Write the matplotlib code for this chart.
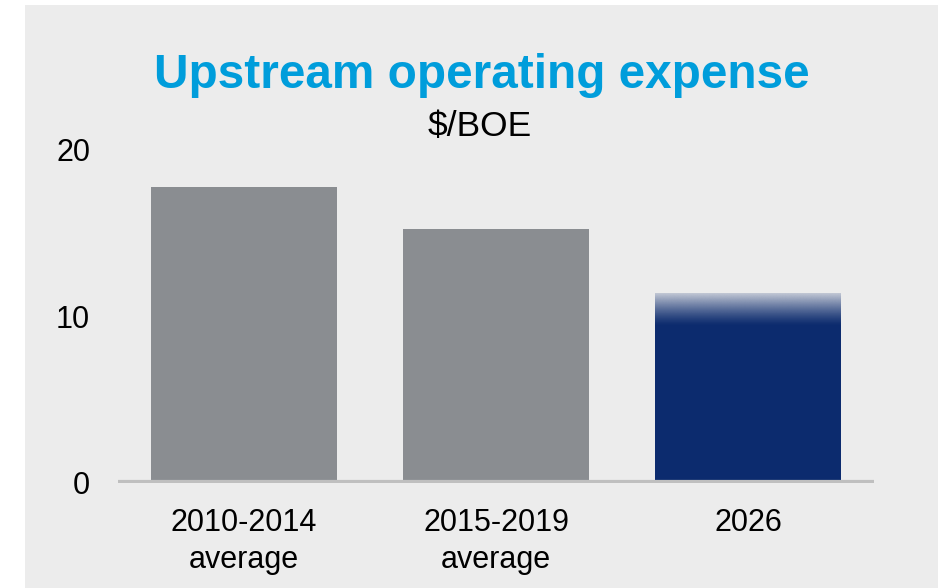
import numpy as np
import matplotlib
matplotlib.use("Agg")
import matplotlib.pyplot as plt
from matplotlib.patches import Rectangle

# data
categories = ["2010-2014\naverage", "2015-2019\naverage", "2026"]
values = [17.8, 15.25, 11.4]
bar_colors = ["#8a8d91", "#8a8d91", "#0c2b6e"]
yticks = [0, 10, 20]

plt.rcParams["font.family"] = ["Liberation Sans", "DejaVu Sans"]
bg = "#ececec"

fig = plt.figure(figsize=(9.38, 5.88), dpi=100, facecolor="white")
# gray panel with a thin white margin on top/left
fig.patches.append(Rectangle((25 / 938, 0), 1, (588 - 5) / 588, transform=fig.transFigure,
                             facecolor=bg, edgecolor="none", zorder=-5))

ax = fig.add_axes([118 / 938, (588 - 483) / 588, (874 - 118) / 938, (483 - 150) / 588])
ax.set_facecolor("none")

x = np.arange(len(categories))
bars = ax.bar(x, values, width=0.74, color=bar_colors, zorder=2)

# fade at the top of the last bar (target not fully settled)
last = bars[-1]
x0, w, h = last.get_x(), last.get_width(), last.get_height()
fade_len = 2.0
ramp = np.linspace(0, 1, 100) ** 1.3
rgba = np.zeros((100, 1, 4))
rgba[..., :3] = matplotlib.colors.to_rgb(bg)
rgba[:, 0, 3] = ramp * 0.85
im = ax.imshow(rgba, extent=(x0, x0 + w, h - fade_len, h), origin="lower",
               aspect="auto", zorder=3, interpolation="bilinear")
im.set_clip_path(last)

ax.axhline(0, color="#bfbfbf", linewidth=5.2, zorder=4, xmin=0, xmax=1)

ax.set_xlim(-0.5, 2.5)
ax.set_ylim(0, 20)
ax.set_yticks(yticks)
ax.set_xticks(x)
ax.set_xticklabels(categories, fontsize=22, linespacing=1.3)
ax.tick_params(axis="y", labelsize=22, length=0, pad=20)
ax.tick_params(axis="x", length=0, pad=18)
for s in ax.spines.values():
    s.set_visible(False)

fig.text(482 / 938, 1 - 75 / 588, "Upstream operating expense", color="#009ddb",
         fontsize=34.4, fontweight="bold", ha="center", va="center")
fig.text(480 / 938, 1 - 126 / 588, "$/BOE", color="black", fontsize=25.5,
         ha="center", va="center")

fig.savefig("out.png", dpi=100, facecolor="white")
